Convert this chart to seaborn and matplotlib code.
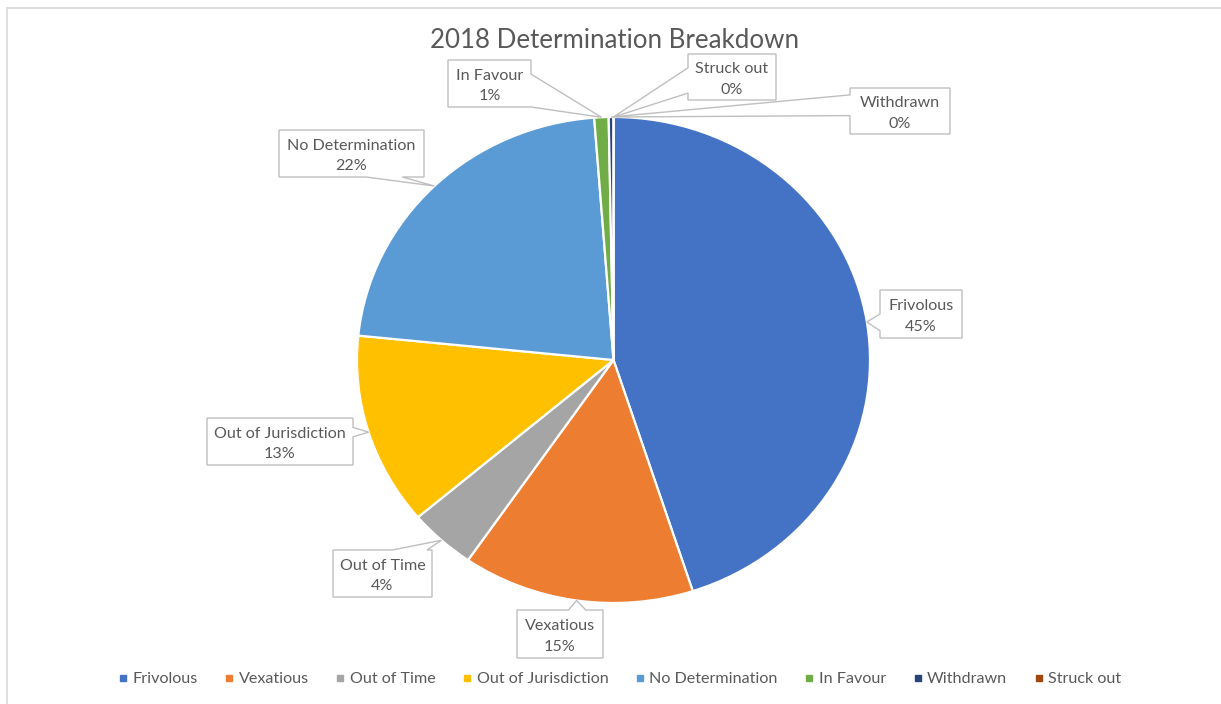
import numpy as np
import matplotlib
matplotlib.use("Agg")
import matplotlib.pyplot as plt
from matplotlib.lines import Line2D
from matplotlib.patches import Polygon
import seaborn as sns

# Determination outcomes for 2018 (share of all determinations, %)
categories = ["Frivolous", "Vexatious", "Out of Time", "Out of Jurisdiction",
              "No Determination", "In Favour", "Withdrawn", "Struck out"]
shares = [45.0, 14.6, 4.2, 12.8, 22.2, 0.9, 0.3, 0.0]
title = "2018 Determination Breakdown"

colors = ["#4472C4", "#ED7D31", "#A5A5A5", "#FFC000",
          "#5B9BD5", "#70AD47", "#264478", "#9E480E"]

sns.set_theme(style="white")
plt.rcParams["font.family"] = ["Lato", "DejaVu Sans"]
TXT = "#595959"
FS = 11.6

W, H = 1221, 704
fig = plt.figure(figsize=(W / 100, H / 100), dpi=100)
fig.patch.set_facecolor("white")

# pie bounding box in pixels (left, top, right, bottom)
PX0, PY0, PX1, PY1 = 357, 117, 870, 603
cx, cy = (PX0 + PX1) / 2, (PY0 + PY1) / 2
rx, ry = (PX1 - PX0) / 2, (PY1 - PY0) / 2

pax = fig.add_axes([PX0 / W, 1 - PY1 / H, (PX1 - PX0) / W, (PY1 - PY0) / H])
pax.pie(shares, colors=colors, startangle=90, counterclock=False,
        radius=1, wedgeprops=dict(edgecolor="white", linewidth=1.6))
pax.set_aspect("auto")
pax.set_xlim(-1, 1)
pax.set_ylim(-1, 1)
pax.axis("off")

# overlay in pixel coordinates for title, callouts and frame
ax = fig.add_axes([0, 0, 1, 1])
ax.set_xlim(0, W)
ax.set_ylim(H, 0)
ax.axis("off")
ax.patch.set_visible(False)

# chart frame
ax.plot([7, W], [8, 8], color="#d9d9d9", lw=1.2)
ax.plot([7, 7], [8, H], color="#d9d9d9", lw=1.2)

ax.text(615, 41, title, ha="center", va="center", fontsize=18.6, color=TXT)

# callout tip: middle of each wedge on the pie rim
total = sum(shares)
cum = np.cumsum([0] + shares[:-1]) / total
mid = (cum + np.array(shares) / total / 2) * 2 * np.pi
tips = [(cx + rx * np.sin(a), cy - ry * np.cos(a)) for a in mid]

# label boxes (x0, y0, x1, y1), pointer side and base fractions along that side
boxes = {
    "Frivolous": ((880, 290, 962, 338), "left", (0.50, 0.85)),
    "Vexatious": ((517, 610, 603, 658), "top", (0.60, 0.80)),
    "Out of Time": ((333, 550, 432, 597), "top", (0.60, 0.95)),
    "Out of Jurisdiction": ((207, 418, 353, 465), "right", (0.20, 0.40)),
    "No Determination": ((279, 130, 424, 177), "bottom", (0.60, 0.85)),
    "In Favour": ((448, 60, 531, 107), "right", (0.30, 1.00)),
    "Withdrawn": ((850, 88, 950, 134), "left", (0.15, 0.60)),
    "Struck out": ((688, 54, 776, 100), "left", (0.30, 0.85)),
}


def callout(box, side, fr, tip):
    x0, y0, x1, y1 = box
    if side == "left":
        a, b = (x0, y0 + fr[0] * (y1 - y0)), (x0, y0 + fr[1] * (y1 - y0))
        pts = [(x0, y0), (x1, y0), (x1, y1), (x0, y1), b, tip, a]
    elif side == "right":
        a, b = (x1, y0 + fr[0] * (y1 - y0)), (x1, y0 + fr[1] * (y1 - y0))
        pts = [(x0, y0), (x1, y0), a, tip, b, (x1, y1), (x0, y1)]
    elif side == "top":
        a, b = (x0 + fr[0] * (x1 - x0), y0), (x0 + fr[1] * (x1 - x0), y0)
        pts = [(x0, y0), a, tip, b, (x1, y0), (x1, y1), (x0, y1)]
    else:
        a, b = (x0 + fr[0] * (x1 - x0), y1), (x0 + fr[1] * (x1 - x0), y1)
        pts = [(x0, y0), (x1, y0), (x1, y1), b, tip, a, (x0, y1)]
    return Polygon(pts, closed=True, facecolor="white", edgecolor="#bfbfbf",
                   lw=1.0, joinstyle="miter")


for name, val, tip in zip(categories, shares, tips):
    box, side, fr = boxes[name]
    ax.add_patch(callout(box, side, fr, tip))
    x0, y0, x1, y1 = box
    xc, yc = (x0 + x1) / 2, (y0 + y1) / 2
    ax.text(xc, yc - 8, name, ha="center", va="center", fontsize=FS, color=TXT)
    ax.text(xc, yc + 13, f"{round(val):.0f}%", ha="center", va="center",
            fontsize=FS, color=TXT)

handles = [Line2D([], [], marker="s", linestyle="", markersize=5,
                  markerfacecolor=c, markeredgecolor=c) for c in colors]
fig.legend(handles, categories, loc="center", bbox_to_anchor=(618 / W, 1 - 679 / H),
           ncol=len(categories), frameon=False, fontsize=FS, labelcolor=TXT,
           handletextpad=0.1, columnspacing=1.45, handlelength=1.0)

fig.savefig("out.png", dpi=100, facecolor="white")
